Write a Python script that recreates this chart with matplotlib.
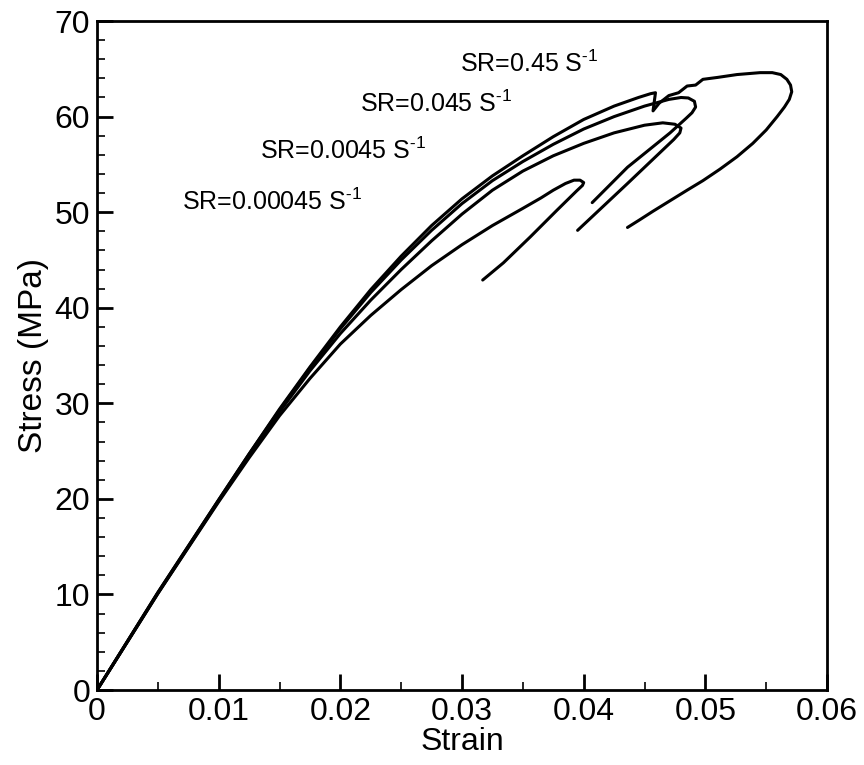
import matplotlib
matplotlib.use('Agg')
import matplotlib.pyplot as plt
from matplotlib.ticker import MultipleLocator

plt.rcParams['font.family'] = ['Liberation Sans', 'DejaVu Sans']
plt.rcParams['mathtext.fontset'] = 'custom'
plt.rcParams['mathtext.rm'] = 'Liberation Sans'
plt.rcParams['mathtext.it'] = 'Liberation Sans'

# strain / stress (MPa), loading then unloading
strain_1 = [0, 0.005, 0.010, 0.0125, 0.015, 0.0175, 0.020, 0.0225, 0.025, 0.0275, 0.030,
            0.0325, 0.035, 0.0365, 0.0375, 0.0385, 0.0392, 0.0397, 0.0400, 0.0399,
            0.0394, 0.0378, 0.0356, 0.0334, 0.0317]
stress_1 = [0, 10.1, 19.7, 24.3, 28.7, 32.6, 36.2, 39.2, 41.9, 44.4, 46.6,
            48.6, 50.4, 51.5, 52.3, 53.0, 53.35, 53.35, 53.1, 52.8,
            52.2, 50.2, 47.4, 44.7, 42.9]

strain_2 = [0, 0.005, 0.010, 0.0125, 0.015, 0.0175, 0.020, 0.0225, 0.025, 0.0275, 0.030,
            0.0325, 0.035, 0.0375, 0.040, 0.0425, 0.045, 0.0465, 0.0475, 0.0480,
            0.0479, 0.0474, 0.0436, 0.0395]
stress_2 = [0, 10.1, 19.8, 24.5, 29.1, 33.4, 37.3, 40.8, 44.0, 47.0, 49.8,
            52.3, 54.3, 55.9, 57.2, 58.3, 59.1, 59.35, 59.2, 58.8,
            58.3, 57.6, 53.0, 48.1]

strain_3 = [0, 0.005, 0.010, 0.0125, 0.015, 0.0175, 0.020, 0.0225, 0.025, 0.0275, 0.030,
            0.0325, 0.035, 0.0375, 0.040, 0.0425, 0.045, 0.047, 0.048, 0.0486,
            0.0491, 0.0492, 0.0489, 0.0484, 0.0471, 0.0436, 0.0407]
stress_3 = [0, 10.2, 19.9, 24.7, 29.3, 33.7, 37.8, 41.6, 45.0, 48.1, 50.9,
            53.3, 55.3, 57.1, 58.7, 60.0, 61.1, 61.8, 62.0, 61.95,
            61.6, 61.0, 60.4, 59.8, 58.3, 54.7, 51.0]

strain_4 = [0, 0.005, 0.010, 0.0125, 0.015, 0.0175, 0.020, 0.0225, 0.025, 0.0275, 0.030,
            0.0325, 0.035, 0.0375, 0.040, 0.0425, 0.0445, 0.0455, 0.0459, 0.0457,
            0.0462, 0.0470, 0.0478, 0.0485, 0.0492, 0.0498, 0.0510, 0.0526, 0.0545,
            0.0555, 0.0562, 0.0567, 0.0570, 0.0571, 0.0569, 0.0565, 0.0559, 0.0550,
            0.0539, 0.0526, 0.0512, 0.0498, 0.0485, 0.0471, 0.0457, 0.0446, 0.0436]
stress_4 = [0, 10.2, 19.9, 24.7, 29.4, 33.8, 38.0, 41.9, 45.4, 48.6, 51.4,
            53.8, 55.9, 57.9, 59.7, 61.1, 62.0, 62.4, 62.5, 60.6,
            61.4, 62.2, 62.5, 63.2, 63.3, 63.9, 64.1, 64.4, 64.6,
            64.6, 64.4, 63.9, 63.3, 62.6, 61.8, 61.0, 60.0, 58.6,
            57.2, 55.8, 54.5, 53.3, 52.3, 51.2, 50.1, 49.2, 48.4]

labels = ['SR=0.00045 S$^{\u20111}$', 'SR=0.0045 S$^{\u20111}$',
          'SR=0.045 S$^{\u20111}$', 'SR=0.45 S$^{\u20111}$']

fig = plt.figure(figsize=(8.64, 7.65), dpi=100)
ax = fig.add_axes([0.1123, 0.098, 0.8449, 0.8745])

for xs, ys in [(strain_1, stress_1), (strain_2, stress_2), (strain_3, stress_3), (strain_4, stress_4)]:
    ax.plot(xs, ys, color='black', lw=2.2, solid_joinstyle='round', solid_capstyle='round')

ax.text(0.0070, 51.1, labels[0], fontsize=18, ha='left', va='center')
ax.text(0.0134, 56.4, labels[1], fontsize=18, ha='left', va='center')
ax.text(0.0216, 61.3, labels[2], fontsize=18, ha='left', va='center')
ax.text(0.0298, 65.5, labels[3], fontsize=18, ha='left', va='center')

ax.set_xlim(0, 0.06)
ax.set_ylim(0, 70)
ax.set_xticks([0, 0.01, 0.02, 0.03, 0.04, 0.05, 0.06])
ax.set_xticklabels(['0', '0.01', '0.02', '0.03', '0.04', '0.05', '0.06'])
ax.xaxis.set_minor_locator(MultipleLocator(0.005))
ax.yaxis.set_major_locator(MultipleLocator(10))
ax.yaxis.set_minor_locator(MultipleLocator(2))
ax.tick_params(which='major', direction='in', length=11.5, width=2, labelsize=23, pad=5)
ax.tick_params(which='minor', direction='in', length=6, width=1.2)
ax.tick_params(top=False, right=False, which='both')
for s in ax.spines.values():
    s.set_linewidth(2)

ax.set_xlabel('Strain', fontsize=23, labelpad=0)
ax.set_ylabel('Stress (MPa)', fontsize=24, labelpad=4)

fig.savefig('out.png', dpi=100)
